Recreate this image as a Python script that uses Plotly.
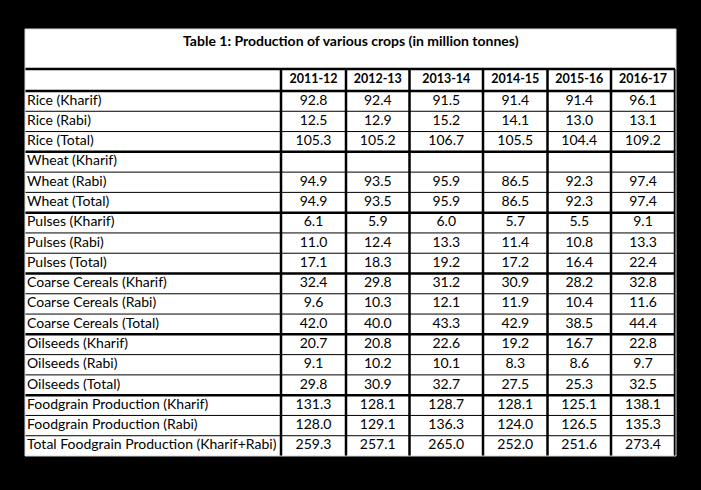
import plotly.graph_objects as go

title = "Table 1: Production of various crops (in million tonnes)"
years = ["2011-12", "2012-13", "2013-14", "2014-15", "2015-16", "2016-17"]
crops = ["Rice (Kharif)", "Rice (Rabi)", "Rice (Total)",
         "Wheat (Kharif)", "Wheat (Rabi)", "Wheat (Total)",
         "Pulses (Kharif)", "Pulses (Rabi)", "Pulses (Total)",
         "Coarse Cereals (Kharif)", "Coarse Cereals (Rabi)", "Coarse Cereals (Total)",
         "Oilseeds (Kharif)", "Oilseeds (Rabi)", "Oilseeds (Total)",
         "Foodgrain Production (Kharif)", "Foodgrain Production (Rabi)",
         "Total Foodgrain Production (Kharif+Rabi)"]

y2011 = [92.8, 12.5, 105.3, None, 94.9, 94.9, 6.1, 11.0, 17.1, 32.4, 9.6, 42.0, 20.7, 9.1, 29.8, 131.3, 128.0, 259.3]
y2012 = [92.4, 12.9, 105.2, None, 93.5, 93.5, 5.9, 12.4, 18.3, 29.8, 10.3, 40.0, 20.8, 10.2, 30.9, 128.1, 129.1, 257.1]
y2013 = [91.5, 15.2, 106.7, None, 95.9, 95.9, 6.0, 13.3, 19.2, 31.2, 12.1, 43.3, 22.6, 10.1, 32.7, 128.7, 136.3, 265.0]
y2014 = [91.4, 14.1, 105.5, None, 86.5, 86.5, 5.7, 11.4, 17.2, 30.9, 11.9, 42.9, 19.2, 8.3, 27.5, 128.1, 124.0, 252.0]
y2015 = [91.4, 13.0, 104.4, None, 92.3, 92.3, 5.5, 10.8, 16.4, 28.2, 10.4, 38.5, 16.7, 8.6, 25.3, 125.1, 126.5, 251.6]
y2016 = [96.1, 13.1, 109.2, None, 97.4, 97.4, 9.1, 13.3, 22.4, 32.8, 11.6, 44.4, 22.8, 9.7, 32.5, 138.1, 135.3, 273.4]
values = [y2011, y2012, y2013, y2014, y2015, y2016]

# layout of the grid (axis units = pixels inside the white box)
W, H = 651, 427
col_edges = [0, 256, 321, 384.5, 458, 522.5, 586, 650]
head_top, head_bot = 40, 62
row_h = (H - head_bot) / len(crops)
font = "Lato"
fs = 14

fig = go.Figure()

# header
fig.add_trace(go.Scatter(
    x=[(col_edges[i + 1] + col_edges[i + 2]) / 2 for i in range(len(years))],
    y=[(head_top + head_bot) / 2] * len(years),
    text=["<b>%s</b>" % y for y in years], mode="text",
    textfont=dict(family=font, size=12.5, color="black"), hoverinfo="skip"))

# row labels
fig.add_trace(go.Scatter(
    x=[2] * len(crops),
    y=[head_bot + row_h * (i + 0.5) for i in range(len(crops))],
    text=crops, mode="text", textposition="middle right",
    textfont=dict(family=font, size=fs, color="black"), hoverinfo="skip"))

# values
for j, col in enumerate(values):
    xc = (col_edges[j + 1] + col_edges[j + 2]) / 2
    fig.add_trace(go.Scatter(
        x=[xc] * len(col),
        y=[head_bot + row_h * (i + 0.5) for i in range(len(col))],
        text=["" if v is None else "%.1f" % v for v in col], mode="text",
        textfont=dict(family=font, size=fs, color="black"), hoverinfo="skip"))

shapes = []
# horizontal lines
shapes.append(dict(type="line", xref="x", yref="y", x0=0, x1=650, y0=head_top, y1=head_top,
                   line=dict(color="black", width=2.5)))
shapes.append(dict(type="line", xref="x", yref="y", x0=0, x1=650, y0=head_bot, y1=head_bot,
                   line=dict(color="black", width=2.5)))
for i, c in enumerate(crops[:-1]):
    yy = head_bot + row_h * (i + 1)
    w = 2.5 if "(Total)" in c else 1
    shapes.append(dict(type="line", xref="x", yref="y", x0=0, x1=650, y0=yy, y1=yy,
                       line=dict(color="black", width=w)))
# vertical lines
for xe in col_edges[1:]:
    shapes.append(dict(type="line", xref="x", yref="y", x0=xe, x1=xe, y0=head_top, y1=H,
                       line=dict(color="black", width=2.5)))
# thin grey frame around the white box
shapes.append(dict(type="rect", xref="paper", yref="paper", x0=25 / 701, x1=676 / 701,
                   y0=1 - 456 / 490, y1=1 - 29 / 490, line=dict(color="#d9d9d9", width=1)))

fig.update_layout(
    width=701, height=490, margin=dict(l=0, r=0, t=0, b=0),
    paper_bgcolor="black", plot_bgcolor="white", showlegend=False,
    shapes=shapes,
    xaxis=dict(domain=[25 / 701, 676 / 701], range=[0, W], visible=False, fixedrange=True),
    yaxis=dict(domain=[1 - 456 / 490, 1 - 29 / 490], range=[H, 0], visible=False, fixedrange=True),
    annotations=[dict(text="<b>%s</b>" % title, xref="x", yref="y", x=W / 2, y=11,
                      showarrow=False, font=dict(family=font, size=fs, color="black"))],
)

fig.write_html("out.html", config={"displayModeBar": False},
               post_script="document.body.style.margin='0';document.body.style.background='black';")
